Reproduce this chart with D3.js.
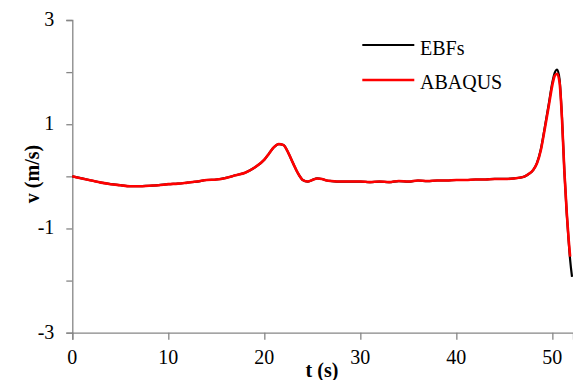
<!DOCTYPE html>
<html><head><meta charset="utf-8"><script src="https://cdn.jsdelivr.net/npm/d3@7"></script></head>
<body style="margin:0;background:#fff">
<svg id="s" width="573" height="380" style="display:block"></svg>
<script>
// ---- data ----
const seriesNames = ["EBFs", "ABAQUS"];
const timeBase = [0,1,2,3,4,5,6,7,8,9,10,11,12,13,14,15,16,17,18,19,20,20.5,21,21.5,22,22.5,23,23.5,24,24.5,25,25.5,26,26.5,27,28,29,30,31,32,33,34,35,36,37,38,39,40,41,42,43,44,45,46,47,47.5,48,48.4,48.8,49.2,49.6,50,50.25,50.5,50.75,51,51.25,51.5,51.7,51.85];
const abaqusBase = [0.0,-0.04,-0.08,-0.12,-0.15,-0.17,-0.19,-0.19,-0.18,-0.17,-0.15,-0.14,-0.12,-0.10,-0.07,-0.06,-0.03,0.02,0.07,0.17,0.32,0.44,0.56,0.62,0.60,0.45,0.25,0.06,-0.07,-0.10,-0.07,-0.04,-0.05,-0.08,-0.09,-0.10,-0.10,-0.10,-0.11,-0.10,-0.11,-0.09,-0.10,-0.08,-0.09,-0.08,-0.08,-0.07,-0.07,-0.06,-0.06,-0.05,-0.05,-0.04,-0.01,0.04,0.12,0.25,0.50,0.90,1.32,1.75,1.93,1.97,1.80,1.12,0.10,-0.70,-1.22,-1.54];
const ebfsTime = timeBase.concat([52.05]);
const ebfsValues = [0.0,-0.04,-0.08,-0.12,-0.15,-0.17,-0.19,-0.19,-0.18,-0.17,-0.15,-0.14,-0.12,-0.10,-0.07,-0.06,-0.03,0.02,0.07,0.17,0.32,0.44,0.56,0.62,0.60,0.45,0.25,0.06,-0.07,-0.10,-0.07,-0.04,-0.05,-0.08,-0.09,-0.10,-0.10,-0.10,-0.11,-0.10,-0.11,-0.09,-0.10,-0.08,-0.09,-0.08,-0.08,-0.07,-0.07,-0.06,-0.06,-0.05,-0.05,-0.04,-0.01,0.04,0.12,0.26,0.52,0.93,1.36,1.80,1.99,2.05,1.86,1.14,0.10,-0.72,-1.25,-1.60,-1.93];
const xTicks = [0,10,20,30,40,50];
const yTicks = [-3,-2,-1,0,1,2,3];
const yTickLabels = [-3,-1,1,3];
const xTitle = "t (s)";
const yTitle = "v (m/s)";

const svg = d3.select("#s");
const x = d3.scaleLinear().domain([0, 52.15]).range([72.3, 573]);
const y = d3.scaleLinear().domain([-3, 3]).range([332.7, 20]);
const axisColor = "#868686";

// axes (lines only; labels drawn as plain text below)
const gy = svg.append("g").attr("transform", `translate(${x(0)},0)`)
  .call(d3.axisLeft(y).tickValues(yTicks).tickSize(6).tickFormat(""));
const gx = svg.append("g").attr("transform", `translate(0,${y(-3)})`)
  .call(d3.axisBottom(x).tickValues(xTicks).tickSize(7).tickFormat(""));
[gx, gy].forEach(g => {
  g.select(".domain").attr("stroke", axisColor).attr("stroke-width", 1.3);
  g.selectAll(".tick line").attr("stroke", axisColor).attr("stroke-width", 1.3);
  g.selectAll(".tick text").remove();
});

yTickLabels.forEach(v => {
  svg.append("text").attr("x", x(0) - 18).attr("y", y(v) + 6).attr("text-anchor", "end")
    .attr("font-family", "Liberation Serif").attr("font-size", 20).text(String(v));
});
xTicks.forEach(v => {
  svg.append("text").attr("x", x(v)).attr("y", 364).attr("text-anchor", "middle")
    .attr("font-family", "Liberation Serif").attr("font-size", 20).text(String(v));
});

// titles
svg.append("text").attr("x", 322).attr("y", 376.5).attr("text-anchor", "middle")
  .attr("font-family", "Liberation Serif").attr("font-size", 20).attr("font-weight", "bold").text(xTitle);
svg.append("text").attr("transform", "translate(39,174) rotate(-90)").attr("text-anchor", "middle")
  .attr("font-family", "Liberation Serif").attr("font-size", 20).attr("font-weight", "bold").text(yTitle);

// lines
const line = d3.line().curve(d3.curveMonotoneX).x(d => x(d[0])).y(d => y(d[1]));
svg.append("path").datum(ebfsTime.map((t, i) => [t, ebfsValues[i]])).attr("d", line)
  .attr("fill", "none").attr("stroke", "#000").attr("stroke-width", 2.2).attr("stroke-linejoin", "round");
svg.append("path").datum(timeBase.map((t, i) => [t, abaqusBase[i]])).attr("d", line)
  .attr("fill", "none").attr("stroke", "#ff0000").attr("stroke-width", 2.6).attr("stroke-linejoin", "round");

// legend
const legendColors = ["#000", "#ff0000"];
const legendY = [45, 80];
seriesNames.forEach((name, i) => {
  svg.append("line").attr("x1", 362.3).attr("x2", 414.3).attr("y1", legendY[i]).attr("y2", legendY[i])
    .attr("stroke", legendColors[i]).attr("stroke-width", i === 0 ? 2 : 2.6);
  svg.append("text").attr("x", 420).attr("y", legendY[i] + (i === 0 ? 10 : 8.5))
    .attr("font-family", "Liberation Serif").attr("font-size", 20).text(name);
});
</script></body></html>
